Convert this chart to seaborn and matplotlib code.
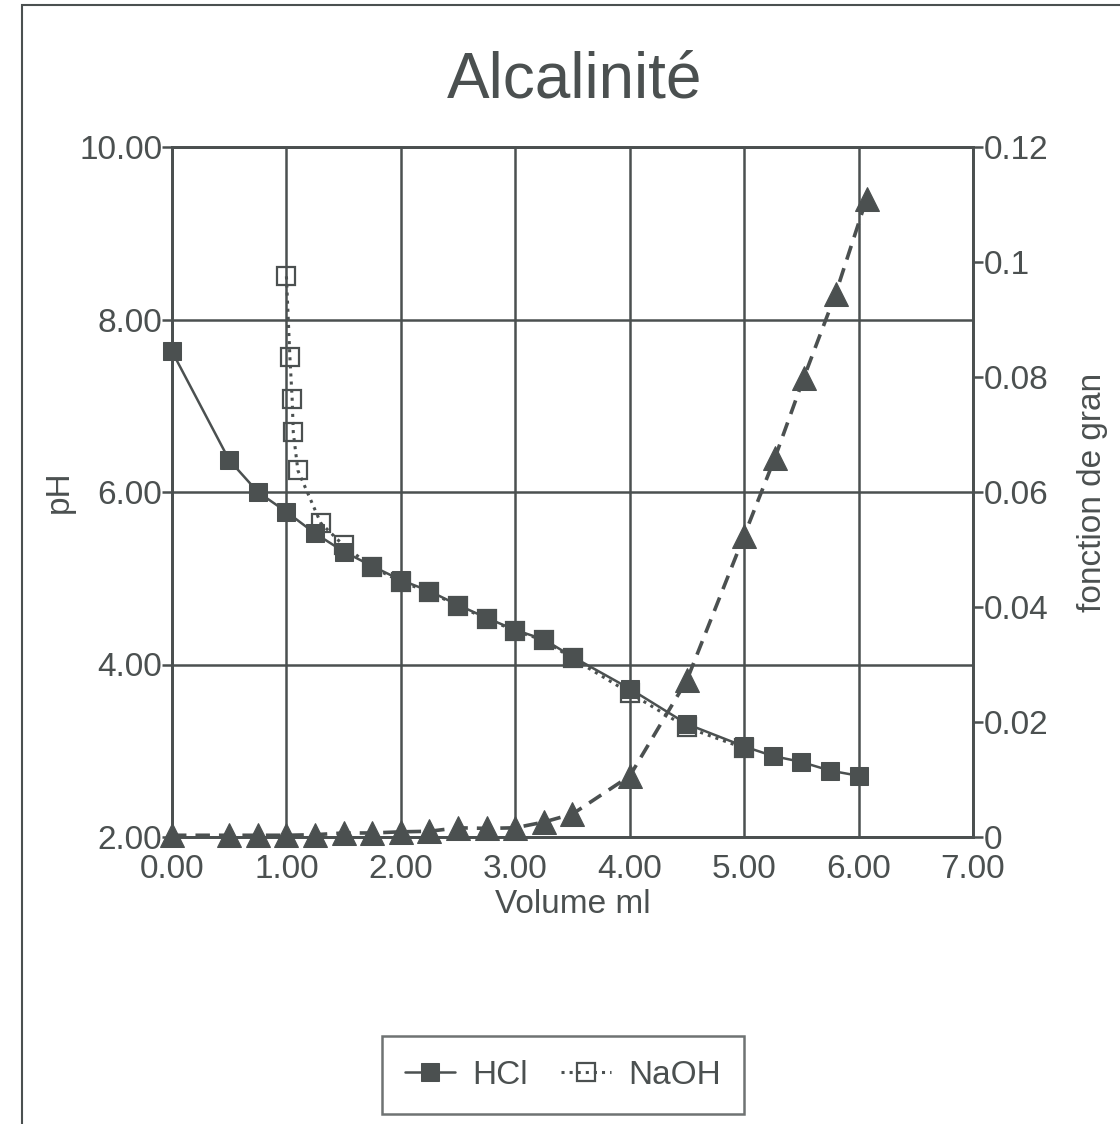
import matplotlib
matplotlib.use("Agg")
import matplotlib.pyplot as plt
import seaborn as sns
import pandas as pd
from matplotlib.patches import Rectangle

# ---- data ----
hcl_vol = [0.0, 0.5, 0.75, 1.0, 1.25, 1.5, 1.75, 2.0, 2.25, 2.5, 2.75, 3.0,
           3.25, 3.5, 4.0, 4.5, 5.0, 5.25, 5.5, 5.75, 6.0]
hcl_ph = [7.63, 6.37, 6.0, 5.77, 5.52, 5.31, 5.14, 4.98, 4.85, 4.69, 4.54, 4.40,
          4.29, 4.09, 3.72, 3.31, 3.05, 2.94, 2.87, 2.77, 2.71]

naoh_vol = [1.0, 1.03, 1.05, 1.06, 1.10, 1.30, 1.50, 1.75, 2.0, 2.25, 2.5, 2.75,
            3.0, 3.25, 3.5, 4.0, 4.5, 5.0]
naoh_ph = [8.50, 7.57, 7.08, 6.69, 6.25, 5.64, 5.38, 5.13, 4.96, 4.84, 4.68, 4.53,
           4.39, 4.28, 4.07, 3.67, 3.27, 3.03]

gran_vol = [0.0, 0.5, 0.75, 1.0, 1.25, 1.5, 1.75, 2.0, 2.25, 2.5, 2.75, 3.0,
            3.25, 3.5, 4.0, 4.5, 5.0, 5.27, 5.52, 5.8, 6.07]
gran_val = [0.0003, 0.0003, 0.0003, 0.0003, 0.0004, 0.0007, 0.0007, 0.0009, 0.0010,
            0.0016, 0.0015, 0.0016, 0.0026, 0.0040, 0.0106, 0.0273, 0.0524,
            0.0660, 0.0798, 0.0945, 0.1110]

x_ticks = [0, 1, 2, 3, 4, 5, 6, 7]
ph_ticks = [2, 4, 6, 8, 10]
gran_ticks = [0, 0.02, 0.04, 0.06, 0.08, 0.1, 0.12]
gran_tick_labels = ["0", "0.02", "0.04", "0.06", "0.08", "0.1", "0.12"]

# ---- style ----
sns.set_style("white")
plt.rcParams['font.family'] = ['Liberation Sans Narrow', 'Liberation Sans', 'DejaVu Sans']
C = "#4b5050"
plt.rcParams['text.color'] = C
plt.rcParams['axes.labelcolor'] = C
plt.rcParams['xtick.color'] = C
plt.rcParams['ytick.color'] = C

fig = plt.figure(figsize=(11.2, 11.24), dpi=100)
ax = fig.add_axes([172/1120, 1-837/1124, (973-172)/1120, (837-147)/1124])
ax2 = ax.twinx()

df_h = pd.DataFrame({"v": hcl_vol, "ph": hcl_ph})
df_n = pd.DataFrame({"v": naoh_vol, "ph": naoh_ph})
df_g = pd.DataFrame({"v": gran_vol, "g": gran_val})

sns.lineplot(data=df_h, x="v", y="ph", ax=ax, color=C, marker="s", markersize=13,
             markeredgecolor=C, markerfacecolor=C, linewidth=1.8, label="HCl",
             sort=False, zorder=3, clip_on=False)
sns.lineplot(data=df_n, x="v", y="ph", ax=ax, color=C, marker="s", markersize=13,
             markeredgecolor=C, markerfacecolor="none", markeredgewidth=1.6,
             linewidth=2.2, linestyle=":", label="NaOH", sort=False, zorder=4)
sns.lineplot(data=df_g, x="v", y="g", ax=ax2, color=C, marker="^", markersize=17,
             markeredgecolor=C, markerfacecolor=C, linewidth=2.6,
             linestyle=(0, (4, 2.5)), sort=False, legend=False, clip_on=False)

ax.set_xlim(0, 7)
ax.set_ylim(2, 10)
ax2.set_ylim(0, 0.12)
ax.set_xticks(x_ticks)
ax.set_xticklabels([f"{t:.2f}" for t in x_ticks])
ax.set_yticks(ph_ticks)
ax.set_yticklabels([f"{t:.2f}" for t in ph_ticks])
ax2.set_yticks(gran_ticks)
ax2.set_yticklabels(gran_tick_labels)

for a in (ax, ax2):
    for s in a.spines.values():
        s.set_color(C)
        s.set_linewidth(2)
ax.tick_params(axis="y", labelsize=24, length=7, width=1.8, direction="out", pad=0)
ax.tick_params(axis="x", labelsize=24, length=7, width=1.8, direction="out", pad=5)
ax2.tick_params(axis="y", labelsize=24, length=7, width=1.8, direction="out", pad=1)

ax.grid(True, color=C, linewidth=1.8)
ax.set_axisbelow(True)

ax.set_xlabel("Volume ml", fontsize=24, labelpad=3)
ax.set_ylabel("pH", fontsize=24, labelpad=3)
ax2.set_ylabel("fonction de gran", fontsize=24, labelpad=20)

fig.text(575/1120, 1-80/1124, "Alcalinité", fontsize=46, ha="center", va="center", color=C)

ax.get_legend().remove()
h, l = ax.get_legend_handles_labels()
leg = fig.legend(h, l, loc="center", bbox_to_anchor=(563/1120, 1-1075/1124), ncol=2,
                 fontsize=24, frameon=True, fancybox=False, edgecolor=C,
                 handlelength=1.5, handletextpad=0.5, columnspacing=1.0,
                 borderpad=0.7)
leg.get_frame().set_linewidth(1.8)

fig.patches.append(Rectangle((22/1120, -0.01), 1.1, 1 - 5/1124 + 0.01, transform=fig.transFigure,
                             fill=False, edgecolor=C, linewidth=1.5))

fig.savefig("out.png", dpi=100)
